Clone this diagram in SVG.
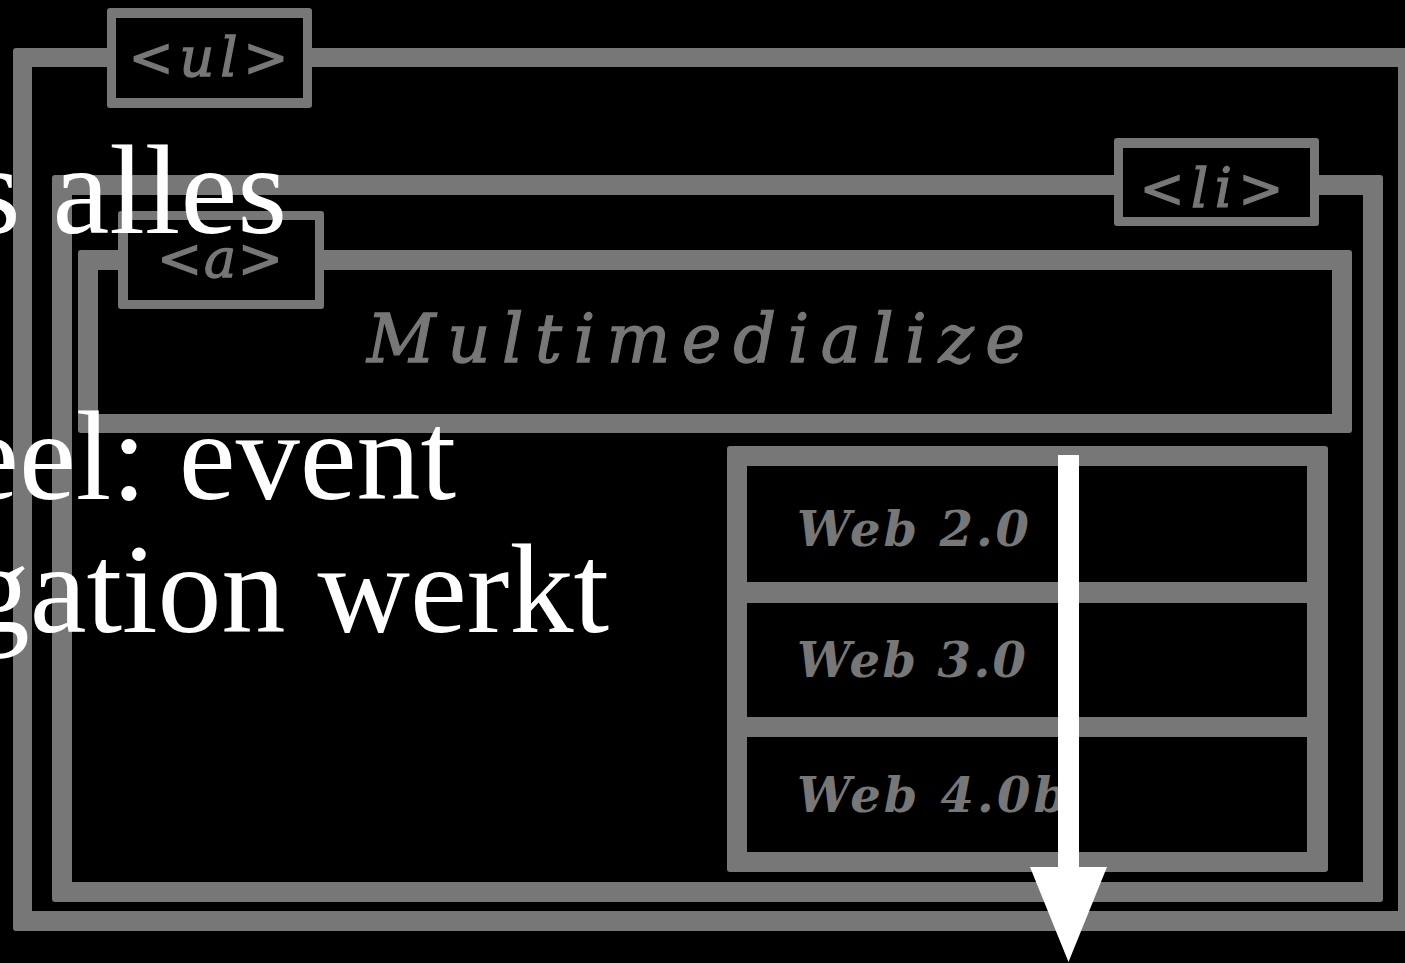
<svg xmlns="http://www.w3.org/2000/svg" width="1405" height="963" viewBox="0 0 1405 963">
<style>
.o{fill:#777777}
.i{fill:#000000}
.lbl{font-family:"DejaVu Serif",serif;font-style:italic;fill:#777777}
.thick{stroke:#777777;stroke-width:1.3}
.big{font-family:"Liberation Serif","Times New Roman",serif;fill:#ffffff;font-size:128px}
</style>
<rect width="1405" height="963" fill="#000"/>
<g id="ul-box">
<rect class="o" x="13" y="48" width="1405" height="883" rx="3"/>
<rect class="i" x="32" y="67" width="1366" height="844"/>
</g>
<g id="ul-label">
<rect class="o" x="107" y="8" width="205" height="100" rx="3"/>
<rect class="i" x="116" y="18" width="187" height="80"/>
<text class="lbl thick" x="208.5" y="76" font-size="54" text-anchor="middle" textLength="160" lengthAdjust="spacing">&lt;ul&gt;</text>
</g>
<g id="li-box">
<rect class="o" x="52" y="175" width="1331" height="727" rx="3"/>
<rect class="i" x="72" y="195" width="1291" height="687"/>
</g>
<g id="li-label">
<rect class="o" x="1114" y="138" width="205" height="88" rx="3"/>
<rect class="i" x="1123" y="148" width="187" height="69"/>
<text class="lbl thick" x="1211.5" y="207" font-size="54" text-anchor="middle" textLength="144" lengthAdjust="spacing">&lt;li&gt;</text>
</g>
<g id="a-box">
<rect class="o" x="78" y="250" width="1274" height="183" rx="3"/>
<rect class="i" x="98" y="270" width="1234" height="144"/>
<text class="lbl thick" x="367" y="362" font-size="67" textLength="658" lengthAdjust="spacing">Multimedialize</text>
</g>
<g id="a-label">
<rect class="o" x="118" y="211" width="206" height="98" rx="3"/>
<rect class="i" x="128" y="220" width="187" height="80"/>
<text class="lbl thick" x="220" y="277" font-size="54" text-anchor="middle" textLength="126" lengthAdjust="spacing">&lt;a&gt;</text>
</g>
<g id="list-box">
<rect class="o" x="727" y="446" width="601" height="426" rx="3"/>
<rect class="i" x="747" y="466" width="560" height="116"/>
<rect class="i" x="747" y="603" width="560" height="114"/>
<rect class="i" x="747" y="737" width="560" height="115"/>
</g>
<g id="item-web2">
<text class="lbl" x="797" y="546" font-size="48" font-weight="bold" textLength="232" lengthAdjust="spacing">Web 2.0</text>
</g>
<g id="item-web3">
<text class="lbl" x="797" y="677" font-size="48" font-weight="bold" textLength="229" lengthAdjust="spacing">Web 3.0</text>
</g>
<g id="item-web4">
<text class="lbl" x="797" y="812" font-size="48" font-weight="bold" textLength="270" lengthAdjust="spacing">Web 4.0b</text>
</g>
<g id="connectors">
<path d="M1058 455 H1079 V867 H1107 L1068.5 962 L1030 867 H1058 Z" fill="#ffffff"/>
</g>
<g id="caption">
<text class="big" x="287" y="233" text-anchor="end">s alles</text>
<text class="big" x="456" y="499" text-anchor="end">eel: event</text>
<text class="big" x="609" y="632" text-anchor="end">gation werkt</text>
</g>
</svg>
